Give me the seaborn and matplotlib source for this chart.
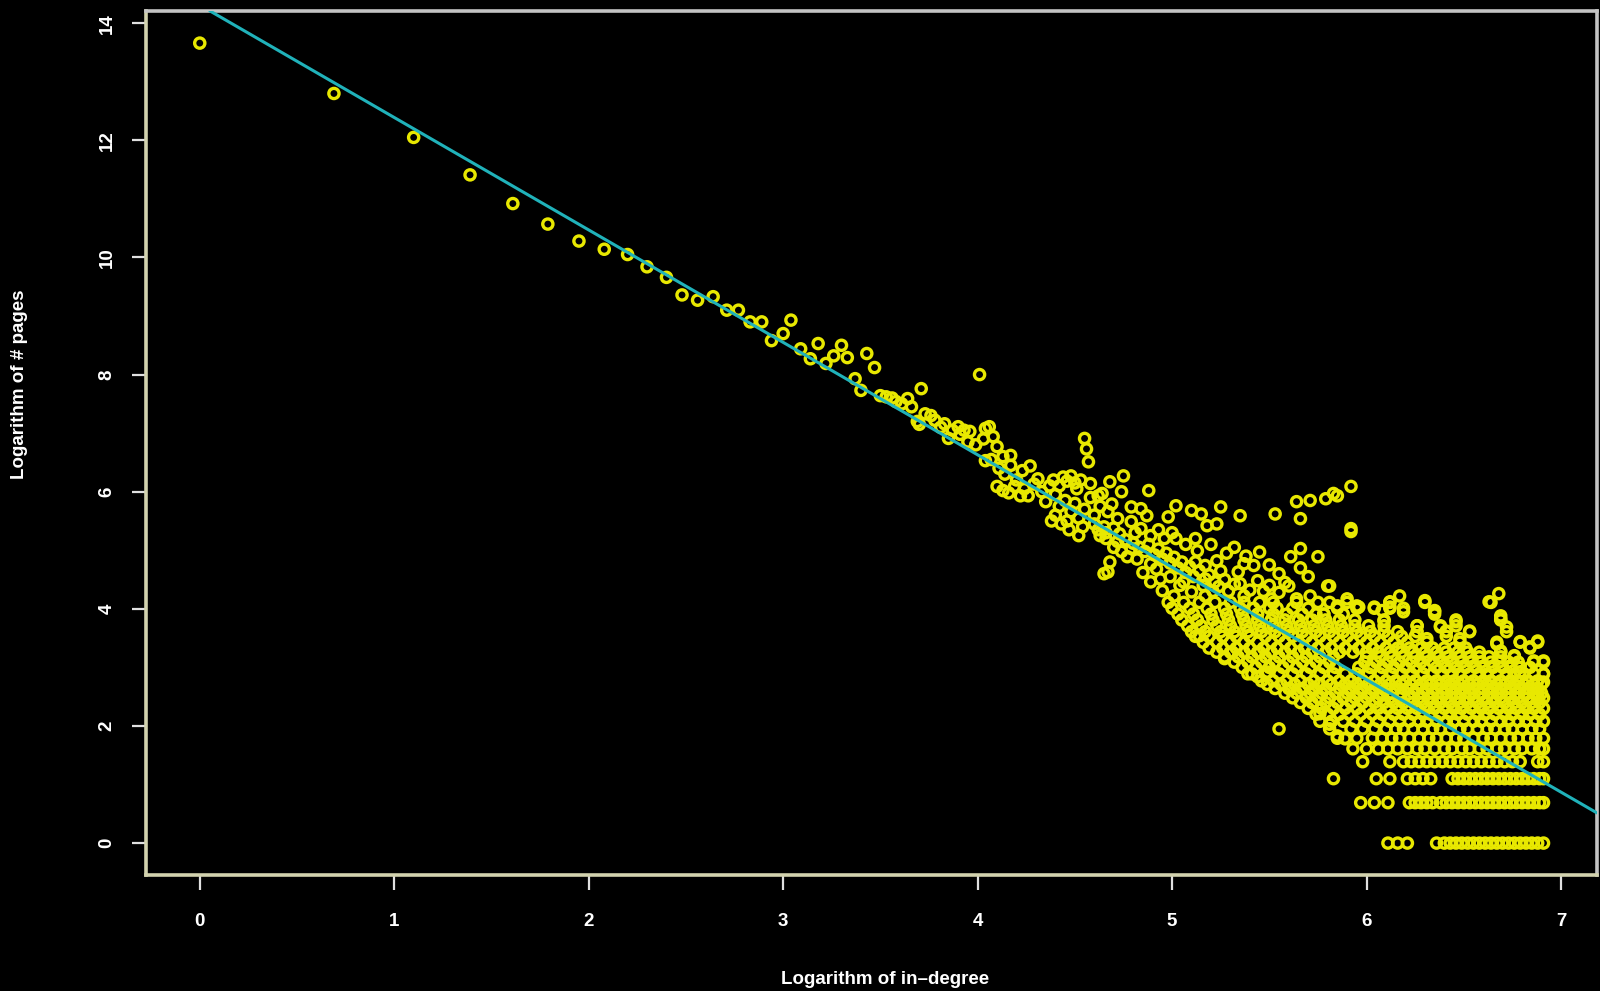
import numpy as np
import pandas as pd
import matplotlib
matplotlib.use("Agg")
import matplotlib.pyplot as plt
import seaborn as sns

# -----------------------------
# Data (log in-degree vs log # pages)
# -----------------------------
# isolated points along the fitted line (small in-degree)
line_x = [0.00, 0.69, 1.10, 1.39, 1.61, 1.79, 1.95, 2.08, 2.20, 2.30, 2.40, 2.48,
          2.56, 2.64, 2.71, 2.77, 2.83, 2.89, 2.94, 3.00, 3.04, 3.09, 3.14, 3.18,
          3.22, 3.26, 3.30, 3.33, 3.37, 3.40, 3.43, 3.47, 3.50, 3.53, 3.56, 3.58,
          3.61, 3.64, 3.66, 3.69]
line_y = [13.66, 12.80, 12.05, 11.41, 10.92, 10.57, 10.28, 10.14, 10.05, 9.84, 9.66, 9.36,
          9.27, 9.33, 9.10, 9.10, 8.90, 8.90, 8.58, 8.70, 8.93, 8.44, 8.27, 8.53,
          8.19, 8.32, 8.50, 8.29, 7.93, 7.73, 8.36, 8.12, 7.64, 7.62, 7.60, 7.54,
          7.50, 7.59, 7.45, 7.20]

# scattered points of the middle part and the cloud edges
mid_x = [4.01, 3.71, 3.73, 3.76, 3.70, 3.78, 3.81, 3.83, 3.87, 3.90, 3.91, 3.93, 3.96, 3.85,
         3.95, 3.99, 4.03, 4.04, 4.06, 4.08, 4.10, 4.04, 4.07, 4.13, 4.17, 4.11, 4.14, 4.17,
         4.20, 4.23, 4.27, 4.10, 4.13, 4.16, 4.19, 4.22, 4.24, 4.26, 4.29, 4.31, 4.33, 4.35,
         4.37, 4.39, 4.42, 4.44, 4.46, 4.48, 4.50, 4.51, 4.53, 4.55, 4.56, 4.57, 4.58, 4.40,
         4.42, 4.45, 4.48, 4.50, 4.52, 4.55, 4.58, 4.60, 4.62, 4.63, 4.38, 4.43, 4.47, 4.52,
         4.40, 4.46, 4.54,
         4.75, 4.68, 4.74, 4.64, 4.88, 4.69, 4.79, 4.84, 4.87, 5.02, 4.98, 5.10, 5.15, 5.25,
         5.18, 5.23, 5.35, 5.53, 5.64, 5.71, 5.79, 5.83, 5.66, 4.67, 4.72, 4.65, 4.66, 4.68,
         4.65, 4.79, 4.84, 4.89, 4.96, 5.02, 4.79, 4.77, 4.82, 4.89, 4.89, 4.94, 4.95, 5.01,
         5.13, 5.12, 5.17, 5.23, 5.25, 5.17, 5.22, 5.34, 5.37, 5.42, 5.45, 5.35, 5.61, 5.66,
         5.75, 5.60, 5.80, 5.06, 5.10, 5.17, 5.37, 5.51, 5.64, 5.71, 4.63, 4.72, 4.67,
         4.60, 4.62, 4.66, 4.70, 4.73, 4.76, 4.70, 4.74, 4.80, 4.83, 4.86, 4.88, 4.91, 4.93,
         4.95, 4.97, 4.99, 5.01, 5.03, 5.05, 5.07, 5.09, 5.11, 5.14, 5.16, 5.19, 5.21, 5.24,
         5.27, 5.29, 5.32, 5.40, 5.44, 5.47, 5.50, 5.55, 5.58, 4.85, 4.92, 4.99, 5.04, 4.81,
         4.93, 5.00, 5.07, 5.12, 5.20, 5.28, 5.32, 5.38, 5.50, 5.55, 5.70, 5.66,
         5.92, 5.85, 5.92, 5.92, 5.81, 5.90, 5.96, 6.04, 6.12, 6.17, 6.08, 6.30, 6.35, 6.63,
         6.68, 6.69, 6.69, 6.72, 6.67, 6.69, 6.79, 6.84, 6.88, 6.86, 6.91, 6.91, 6.91, 6.88,
         6.46, 6.53, 6.48, 6.41, 6.38, 6.35, 6.31, 6.26, 6.19, 6.12, 6.09, 5.95, 5.85, 5.78,
         6.74, 6.79, 6.76,
         5.14, 5.27, 5.31, 5.39, 5.44, 5.45, 5.49, 5.55, 5.61, 5.69, 5.76, 5.81, 5.85, 5.89]
mid_y = [8.00, 7.76, 7.33, 7.30, 7.15, 7.22, 7.10, 7.16, 7.05, 7.11, 6.98, 7.05, 7.03, 6.91,
         6.85, 6.80, 6.90, 7.08, 7.11, 6.94, 6.77, 6.53, 6.55, 6.60, 6.62, 6.40, 6.30, 6.45,
         6.20, 6.36, 6.44, 6.09, 6.02, 5.98, 6.09, 5.93, 6.05, 5.93, 6.13, 6.22, 6.00, 5.83,
         6.10, 6.20, 6.10, 6.25, 6.18, 6.27, 6.15, 6.05, 6.20, 6.91, 6.73, 6.51, 6.14, 5.95,
         5.75, 5.85, 5.66, 5.80, 5.55, 5.70, 5.90, 5.60, 5.93, 5.75, 5.50, 5.45, 5.35, 5.25,
         5.60, 5.50, 5.40,
         6.27, 6.17, 6.00, 5.97, 6.02, 5.79, 5.74, 5.71, 5.59, 5.76, 5.57, 5.68, 5.62, 5.74,
         5.42, 5.45, 5.59, 5.62, 5.83, 5.85, 5.88, 5.97, 5.54, 5.66, 5.54, 5.40, 5.20, 4.80,
         4.60, 5.49, 5.37, 5.25, 5.20, 5.20, 5.03, 4.89, 4.85, 4.77, 4.46, 4.51, 4.31, 4.22,
         4.99, 4.80, 4.74, 4.82, 4.65, 4.51, 4.46, 4.63, 4.77, 4.74, 4.97, 4.43, 4.89, 5.03,
         4.89, 4.39, 4.39, 4.46, 4.29, 4.22, 4.22, 4.17, 4.17, 4.22, 5.25, 5.15, 4.63,
         5.45, 5.35, 5.30, 5.38, 5.28, 5.18, 5.05, 4.98, 5.12, 5.05, 4.98, 5.10, 4.92, 5.02,
         4.85, 4.95, 4.78, 4.88, 4.70, 4.80, 4.62, 4.72, 4.55, 4.65, 4.40, 4.58, 4.30, 4.38,
         4.50, 4.30, 4.42, 4.32, 4.48, 4.30, 4.40, 4.28, 4.45, 4.62, 4.68, 4.55, 4.40, 5.30,
         5.35, 5.30, 5.10, 5.20, 5.10, 4.95, 5.05, 4.90, 4.75, 4.60, 4.55, 4.70,
         6.09, 5.93, 5.32, 5.37, 4.39, 4.17, 4.03, 4.03, 4.12, 4.22, 3.97, 4.14, 3.97, 4.12,
         4.26, 3.88, 3.83, 3.69, 3.40, 3.28, 3.44, 3.35, 3.45, 3.11, 3.11, 2.89, 2.75, 2.55,
         3.78, 3.62, 3.49, 3.62, 3.69, 3.95, 3.49, 3.71, 3.95, 4.03, 3.79, 4.05, 4.05, 3.91,
         3.03, 2.92, 3.20,
         3.54, 3.15, 3.26, 2.89, 2.84, 3.26, 2.92, 1.95, 2.63, 2.50, 2.21, 2.03, 1.83, 1.78]

# dense region: rows of equal page counts (y = log of count)
row_levels = [0.00, 0.69, 1.10, 1.39, 1.61, 1.79, 1.95, 2.08, 2.20, 2.30, 2.40, 2.48,
              2.56, 2.64, 2.71, 2.77, 2.89, 3.00, 3.09, 3.18, 3.26, 3.33, 3.43, 3.53,
              3.61, 3.71, 3.81, 3.91, 4.01, 4.11]
row_x = [
    [6.11, 6.16, 6.21, 6.36, 6.40, 6.43, 6.46, 6.49, 6.52, 6.55, 6.58, 6.61, 6.64, 6.67, 6.70,
     6.73, 6.76, 6.79, 6.82, 6.85, 6.88, 6.91],
    [5.97, 6.04, 6.11, 6.22, 6.25, 6.28, 6.31, 6.34, 6.38, 6.41, 6.44, 6.47, 6.50, 6.53, 6.56,
     6.59, 6.62, 6.65, 6.68, 6.71, 6.74, 6.77, 6.80, 6.83, 6.86, 6.89, 6.91],
    [5.83, 6.05, 6.12, 6.21, 6.25, 6.29, 6.33, 6.44, 6.47, 6.50, 6.53, 6.56, 6.59, 6.62, 6.65,
     6.68, 6.71, 6.74, 6.77, 6.80, 6.83, 6.86, 6.89, 6.91],
    [5.98, 6.12, 6.19, 6.23, 6.27, 6.31, 6.35, 6.39, 6.43, 6.47, 6.51, 6.55, 6.59, 6.63, 6.67,
     6.71, 6.75, 6.79, 6.88, 6.91],
    [5.93, 6.00, 6.06, 6.11, 6.16, 6.21, 6.26, 6.30, 6.35, 6.40, 6.44, 6.49, 6.53, 6.58, 6.62,
     6.67, 6.71, 6.76, 6.80, 6.85, 6.89, 6.91],
    [5.85, 5.89, 5.95, 6.03, 6.08, 6.13, 6.17, 6.22, 6.27, 6.32, 6.36, 6.41, 6.46, 6.50, 6.55,
     6.60, 6.64, 6.69, 6.74, 6.78, 6.83, 6.87, 6.91],
    [5.81, 5.92, 5.98, 6.04, 6.10, 6.15, 6.19, 6.24, 6.29, 6.34, 6.38, 6.43, 6.48, 6.52, 6.57,
     6.62, 6.66, 6.71, 6.75, 6.80, 6.85, 6.89],
    [5.76, 5.82, 5.88, 5.94, 6.00, 6.06, 6.12, 6.17, 6.22, 6.27, 6.31, 6.36, 6.41, 6.45, 6.50,
     6.55, 6.59, 6.64, 6.69, 6.73, 6.78, 6.82, 6.87, 6.91],
    [5.74, 5.80, 5.86, 5.91, 5.97, 6.03, 6.08, 6.14, 6.19, 6.24, 6.29, 6.33, 6.38, 6.43, 6.47,
     6.52, 6.57, 6.61, 6.66, 6.71, 6.75, 6.80, 6.84, 6.89],
    [5.70, 5.77, 5.83, 5.89, 5.95, 6.01, 6.06, 6.11, 6.16, 6.21, 6.26, 6.31, 6.35, 6.40, 6.45,
     6.49, 6.54, 6.59, 6.63, 6.68, 6.73, 6.77, 6.82, 6.86, 6.91],
    [5.66, 5.72, 5.79, 5.85, 5.92, 5.98, 6.04, 6.09, 6.14, 6.19, 6.24, 6.29, 6.34, 6.38, 6.43,
     6.48, 6.52, 6.57, 6.62, 6.66, 6.71, 6.76, 6.80, 6.85, 6.89],
    [5.62, 5.69, 5.75, 5.81, 5.88, 5.94, 6.00, 6.06, 6.12, 6.17, 6.22, 6.27, 6.32, 6.37, 6.41,
     6.46, 6.51, 6.55, 6.60, 6.65, 6.69, 6.74, 6.78, 6.83, 6.88, 6.91],
    [5.58, 5.64, 5.71, 5.77, 5.84, 5.90, 5.96, 6.02, 6.08, 6.13, 6.18, 6.24, 6.29, 6.34, 6.39,
     6.44, 6.48, 6.53, 6.58, 6.63, 6.67, 6.72, 6.77, 6.81, 6.86, 6.90],
    [5.53, 5.60, 5.67, 5.73, 5.79, 5.86, 5.92, 5.98, 6.04, 6.10, 6.15, 6.21, 6.26, 6.31, 6.36,
     6.41, 6.46, 6.50, 6.55, 6.60, 6.65, 6.69, 6.74, 6.79, 6.83, 6.88],
    [5.49, 5.56, 5.63, 5.70, 5.76, 5.82, 5.89, 5.95, 6.01, 6.07, 6.12, 6.18, 6.23, 6.28, 6.33,
     6.38, 6.43, 6.48, 6.53, 6.57, 6.62, 6.67, 6.71, 6.76, 6.81, 6.86, 6.90],
    [5.46, 5.52, 5.59, 5.66, 5.73, 5.80, 5.86, 5.92, 5.98, 6.04, 6.10, 6.15, 6.20, 6.25, 6.31,
     6.36, 6.41, 6.45, 6.50, 6.55, 6.60, 6.64, 6.69, 6.74, 6.78, 6.83, 6.88],
    [5.41, 5.48, 5.55, 5.62, 5.69, 5.76, 5.83, 5.89, 5.95, 6.01, 6.07, 6.13, 6.18, 6.23, 6.29,
     6.34, 6.39, 6.44, 6.48, 6.53, 6.58, 6.62, 6.67, 6.72, 6.76, 6.81, 6.86, 6.91],
    [5.36, 5.43, 5.50, 5.57, 5.64, 5.71, 5.78, 5.84, 5.96, 6.02, 6.08, 6.14, 6.20, 6.25, 6.30,
     6.36, 6.41, 6.46, 6.51, 6.56, 6.60, 6.65, 6.70, 6.74, 6.79, 6.84],
    [5.32, 5.39, 5.46, 5.53, 5.60, 5.67, 5.74, 5.81, 5.99, 6.05, 6.11, 6.17, 6.23, 6.28, 6.34,
     6.39, 6.44, 6.49, 6.54, 6.59, 6.64, 6.68, 6.73, 6.78, 6.86, 6.91],
    [5.27, 5.34, 5.41, 5.48, 5.55, 5.62, 5.69, 5.76, 5.83, 6.00, 6.07, 6.13, 6.19, 6.25, 6.31,
     6.37, 6.42, 6.48, 6.53, 6.58, 6.63, 6.69, 6.76],
    [5.23, 5.30, 5.37, 5.44, 5.51, 5.58, 5.65, 5.72, 5.79, 5.86, 5.93, 6.00, 6.06, 6.12, 6.18,
     6.24, 6.30, 6.36, 6.41, 6.47, 6.52, 6.58, 6.69],
    [5.19, 5.26, 5.33, 5.40, 5.47, 5.54, 5.61, 5.68, 5.75, 5.82, 5.89, 5.96, 6.03, 6.10, 6.16,
     6.22, 6.28, 6.34, 6.40, 6.45, 6.51, 6.84],
    [5.16, 5.23, 5.30, 5.37, 5.44, 5.51, 5.58, 5.65, 5.72, 5.79, 5.86, 5.93, 6.00, 6.07, 6.14,
     6.21, 6.31, 6.48, 6.67, 6.79, 6.88],
    [5.12, 5.19, 5.26, 5.33, 5.40, 5.48, 5.55, 5.62, 5.69, 5.76, 5.83, 5.90, 5.97, 6.04, 6.11,
     6.18, 6.25, 6.41],
    [5.10, 5.17, 5.25, 5.32, 5.39, 5.46, 5.53, 5.60, 5.67, 5.74, 5.81, 5.88, 5.95, 6.02, 6.09,
     6.16, 6.26, 6.41, 6.53, 6.72],
    [5.08, 5.15, 5.23, 5.30, 5.38, 5.45, 5.52, 5.59, 5.66, 5.73, 5.80, 5.87, 5.94, 6.01, 6.09,
     6.26, 6.38, 6.46],
    [5.05, 5.13, 5.21, 5.29, 5.37, 5.44, 5.51, 5.58, 5.65, 5.72, 5.79, 5.86, 5.94, 6.09, 6.46,
     6.69],
    [5.03, 5.11, 5.20, 5.28, 5.36, 5.44, 5.52, 5.59, 5.67, 5.74, 5.78, 5.88, 6.35],
    [5.00, 5.09, 5.18, 5.27, 5.35, 5.42, 5.50, 5.54, 5.62, 5.70, 5.85, 5.95, 6.04, 6.12, 6.19],
    [4.98, 5.06, 5.14, 5.22, 5.30, 5.37, 5.45, 5.52, 5.64, 5.75, 5.81, 5.90, 6.12, 6.30, 6.64],
]

# fitted regression line
fit_intercept = 14.31
fit_slope = -1.92

# -----------------------------
# Assemble
# -----------------------------
xs = list(line_x) + list(mid_x)
ys = list(line_y) + list(mid_y)
for lvl, xr in zip(row_levels, row_x):
    xs += xr
    ys += [lvl] * len(xr)
df = pd.DataFrame({"log_indegree": xs, "log_pages": ys})

# -----------------------------
# Plot
# -----------------------------
sns.set_style("dark", {"axes.facecolor": "black", "figure.facecolor": "black"})
plt.rcParams["font.family"] = ["Liberation Sans", "DejaVu Sans"]

fig = plt.figure(figsize=(16, 9.91), dpi=100, facecolor="black")
ax = fig.add_axes([0.0913, 0.117, 0.9067, 0.872])
ax.set_facecolor("black")

sns.scatterplot(data=df, x="log_indegree", y="log_pages", ax=ax,
                marker="o", s=54, facecolors="none", edgecolor="#e8e800",
                linewidth=2.4, zorder=2)
ax.axline((0, fit_intercept), slope=fit_slope, color="#20b2ba", lw=2.2, zorder=3)

ax.set_xlim(-0.276, 7.184)
ax.set_ylim(-0.546, 14.21)
ax.set_xticks(range(0, 8))
ax.set_yticks(range(0, 15, 2))
ax.grid(False)

for side in ["left", "bottom"]:
    ax.spines[side].set_color("#d2d2ae")
    ax.spines[side].set_linewidth(2.6)
for side in ["top", "right"]:
    ax.spines[side].set_color("#c4c4c4")
    ax.spines[side].set_linewidth(2.6)
    ax.spines[side].set_visible(True)

ax.tick_params(axis="x", colors="#e0e0e0", length=11, width=1.6, pad=16,
               labelsize=13.5, labelcolor="white", bottom=True, direction="out")
ax.tick_params(axis="y", colors="#e0e0e0", length=10, width=1.6, pad=12,
               labelsize=13.5, labelcolor="white", left=True, direction="out")
for lab in ax.get_xticklabels() + ax.get_yticklabels():
    lab.set_fontweight("bold")
for lab in ax.get_yticklabels():
    lab.set_rotation(90)
    lab.set_va("center")
ax.yaxis.get_major_ticks()[0].tick1line.set_color("#c8c800")

ax.set_xlabel("")
ax.set_ylabel("")
fig.text(885 / 1600, 1 - 979 / 991, "Logarithm of in\u2013degree", color="white",
         fontsize=13.5, fontweight="bold", ha="center", va="center")
fig.text(20 / 1600, 1 - 384 / 991, "Logarithm of # pages", color="white",
         fontsize=13.5, fontweight="bold", ha="center", va="center", rotation=90)

fig.savefig("out.png", dpi=100, facecolor="black")
